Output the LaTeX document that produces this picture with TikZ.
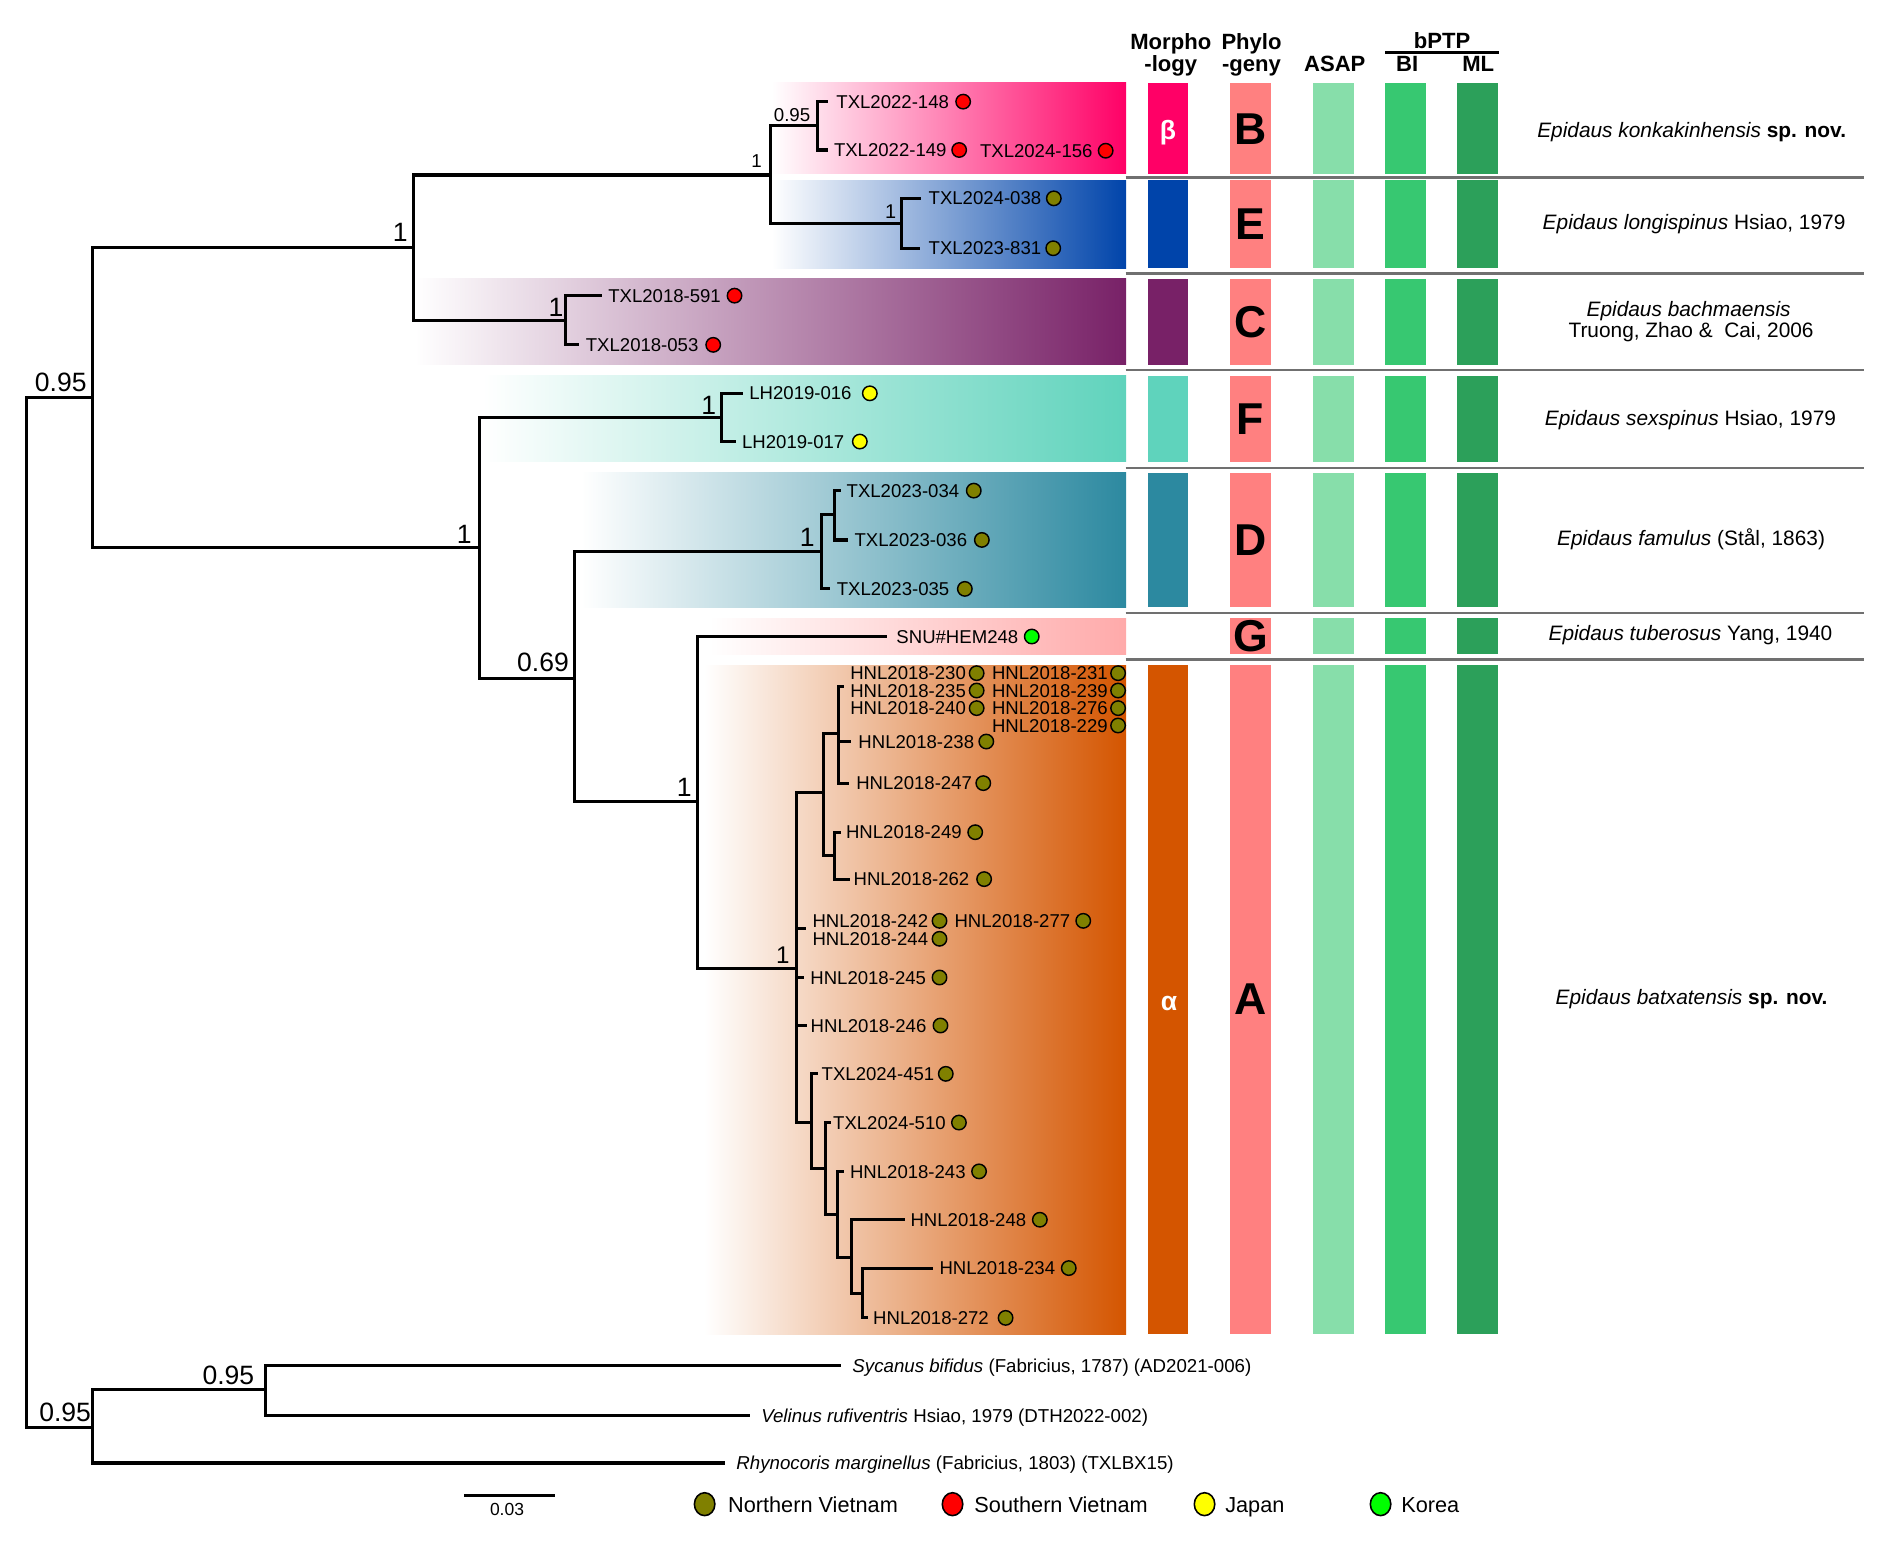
\documentclass[tikz,border=0pt]{standalone}
\usepackage{fontspec}
\setmainfont{Liberation Sans}
\usetikzlibrary{shapes.geometric}
\definecolor{cB}{HTML}{FF0066}
\definecolor{cE}{HTML}{0044AA}
\definecolor{cC}{HTML}{782167}
\definecolor{cF}{HTML}{5FD3BC}
\definecolor{cD}{HTML}{2C89A0}
\definecolor{cG}{HTML}{FFAAAA}
\definecolor{cA}{HTML}{D45500}
\definecolor{cPhy}{HTML}{FF8080}
\definecolor{cAsap}{HTML}{87DEAA}
\definecolor{cBI}{HTML}{37C871}
\definecolor{cML}{HTML}{2CA05A}
\definecolor{cSep}{HTML}{707070}
\definecolor{nVN}{HTML}{808000}
\definecolor{sVN}{HTML}{FF0000}
\definecolor{jap}{HTML}{FFFF00}
\definecolor{kor}{HTML}{00FF00}
\newcommand\ftip{\fontsize{15.4}{18}\selectfont}
\newcommand\fsupv{\fontsize{22}{26}\selectfont}
\newcommand\fsupsm{\fontsize{15.5}{18}\selectfont}
\newcommand\fspn{\fontsize{17.3}{20}\selectfont}
\newcommand\fhead{\fontsize{18.3}{21}\selectfont\bfseries}
\newcommand\fbig{\fontsize{37}{40}\selectfont\bfseries}
\newcommand\fgreek{\fontsize{22}{26}\selectfont\bfseries}
\newcommand\fleg{\fontsize{18}{21}\selectfont}
\newcommand\fog{\fontsize{15.5}{18}\selectfont}
\newcommand\tipl[6]{%
  \node[tiplab] (#1) at (#2,#3) {#4};
  \node[tipdot,fill=#6] (#1d) at (#5,#3) {};}
\begin{document}
\begin{tikzpicture}[x=1pt,y=-1pt,
  br/.style={line width=2.6pt, line join=miter},
  tiplab/.style={anchor=west, inner sep=0pt, text height=11pt, text depth=0pt, font=\ftip},
  tipdot/.style={circle, draw=black, line width=1.2pt, minimum size=12pt, inner sep=0pt},
  supv/.style={anchor=base east, inner sep=0pt, font=\fsupv},
  supsm/.style={anchor=base east, inner sep=0pt, font=\fsupsm},
  spname/.style={anchor=center, inner sep=0pt, text height=12.4pt, text depth=0pt, font=\fspn},
  ogname/.style={anchor=west, inner sep=0pt, text height=11.1pt, text depth=0pt, font=\fog},
  head/.style={anchor=base, inner sep=0pt, font=\fhead},
  biglet/.style={anchor=center, inner sep=0pt, font=\fbig},
  greek/.style={anchor=center, inner sep=0pt, font=\fgreek, text=white},
  sepline/.style={draw=cSep, line width=1.8pt},
  legdot/.style={ellipse, draw=black, line width=1.3pt, minimum width=17pt, minimum height=19pt, inner sep=0pt},
  legtxt/.style={anchor=west, inner sep=0pt, text height=13pt, text depth=0pt, font=\fleg}]
\useasboundingbox (0,0) rectangle (1570,1282);
\fill[white] (0,0) rectangle (1570,1282);

% ---------- coloured clade bands ----------
\shade[left color=white, right color=cB] (640,68.5) rectangle (934,144.3);
\shade[left color=white, right color=cE] (640,149.4) rectangle (934,222.5);
\shade[left color=white, right color=cC] (344,231.3) rectangle (934,302.7);
\shade[left color=white, right color=cF] (400,311.8) rectangle (934,382.9);
\shade[left color=white, right color=cD] (482,392) rectangle (934,503.8);
\shade[left color=white, right color=cG] (588,512.7) rectangle (934,542.8);
\shade[left color=white, right color=cA] (584,551.7) rectangle (934,1106.4);

% ---------- morphology bars ----------
\fill[cB] (952,68.5) rectangle (985,144.3);
\fill[cE] (952,149.4) rectangle (985,222.5);
\fill[cC] (952,231.3) rectangle (985,302.7);
\fill[cF] (952,311.8) rectangle (985,382.9);
\fill[cD] (952,392) rectangle (985,503.8);
\fill[cA] (952,551.7) rectangle (985,1106.4);
\node[greek] (beta) at (968.7,109.7) {β};
\node[greek] (alpha) at (969.6,832) {α};

% ---------- phylogeny / ASAP / bPTP bars ----------
\foreach \t/\b in {68.5/144.3,149.4/222.5,231.3/302.7,311.8/382.9,392/503.8,512.7/542.8,551.7/1106.4}{
  \fill[cPhy] (1020.3,\t) rectangle (1054,\b);
  \fill[cAsap] (1089,\t) rectangle (1122.6,\b);
  \fill[cBI] (1148.7,\t) rectangle (1182.3,\b);
  \fill[cML] (1208.5,\t) rectangle (1242,\b);
}
\node[biglet] (LB) at (1037,107.5) {B};
\node[biglet] (LE) at (1037,186.3) {E};
\node[biglet] (LC) at (1037,267) {C};
\node[biglet] (LF) at (1037,347.4) {F};
\node[biglet] (LD) at (1037,448) {D};
\node[biglet] (LG) at (1037,527.8) {G};
\node[biglet] (LA) at (1037,829) {A};

% ---------- separators ----------
\foreach \y in {147.2,226.8,307,387.8,508.4,547}{
  \draw[sepline] (933.5,\y) -- (1546,\y);
}

% ---------- header ----------
\node[head] (hm1) at (971,40.9) {Morpho};
\node[head] (hm2) at (971,59) {-logy};
\node[head] (hp1) at (1038,40.9) {Phylo};
\node[head] (hp2) at (1038,59) {-geny};
\node[head] (has) at (1107,59) {ASAP};
\node[head] (hbp) at (1196,40) {bPTP};
\node[head] (hbi) at (1167,59) {BI};
\node[head] (hml) at (1226,59) {ML};
\coordinate (bl1) at (1148.7,43.5);
\coordinate (bl2) at (1243.6,43.5);
\draw[line width=1.8pt] (bl1) -- (bl2);

% ---------- species names ----------
\node[spname] (spB) at (1403,107.8) {\textit{Epidaus konkakinhensis} \textbf{sp. nov.}};
\node[spname] (spE) at (1405,183.8) {\textit{Epidaus longispinus} Hsiao, 1979};
\node[spname] (spC1) at (1400.5,256.4) {\textit{Epidaus bachmaensis}};
\node[spname] (spC2) at (1402.5,273.5) {Truong, Zhao \&\ \ Cai, 2006};
\node[spname] (spF) at (1402,346.8) {\textit{Epidaus sexspinus} Hsiao, 1979};
\node[spname] (spD) at (1402.5,446.3) {\textit{Epidaus famulus} (Stål, 1863)};
\node[spname] (spG) at (1402,525) {\textit{Epidaus tuberosus} Yang, 1940};
\node[spname] (spA) at (1402.9,826.5) {\textit{Epidaus batxatensis} \textbf{sp. nov.}};

% ---------- tree coordinates ----------
\coordinate (root) at (22,756);
\coordinate (ing) at (76.5,329.5);
\coordinate (n1) at (342.7,205.1);
\coordinate (nBE) at (639,145.1);
\coordinate (nB) at (677.7,104.2);
\coordinate (l148) at (686.3,84.3);
\coordinate (l149) at (686.3,124.4);
\coordinate (nE) at (747.7,185.2);
\coordinate (l038) at (764.2,164.5);
\coordinate (l831) at (763.4,205.9);
\coordinate (nC) at (468.7,265.9);
\coordinate (l591) at (499.2,245.2);
\coordinate (l053) at (480.2,286);
\coordinate (n2) at (397.7,454.1);
\coordinate (nF) at (598.4,346);
\coordinate (l016) at (616.4,326.2);
\coordinate (l017) at (610.3,366.2);
\coordinate (n069) at (476.8,562.4);
\coordinate (nD) at (681.3,457.4);
\coordinate (nD1) at (692.4,427);
\coordinate (l034) at (697.1,406.9);
\coordinate (l036) at (703.4,447.8);
\coordinate (l035) at (688.2,488.4);
\coordinate (nGA) at (578.6,664.7);
\coordinate (lSNU) at (735.9,527.9);
\coordinate (nA) at (660.8,803.5);
\coordinate (nA1) at (683,657.3);
\coordinate (nA11) at (695.3,608.6);
\coordinate (lcl) at (700,569.5);
\coordinate (l238) at (706,615);
\coordinate (l247) at (704.5,649.5);
\coordinate (nA12) at (692.2,709.8);
\coordinate (l249) at (697.8,690.2);
\coordinate (l262) at (705,729.1);
\coordinate (l242) at (668.2,769.8);
\coordinate (l245) at (666.5,810.7);
\coordinate (l246) at (669.4,850.5);
\coordinate (nA2) at (673,931);
\coordinate (l451) at (678.6,890.6);
\coordinate (nA3) at (684.9,969.3);
\coordinate (l510) at (689.6,931);
\coordinate (nA4) at (694.3,1007.5);
\coordinate (l243) at (700,971.5);
\coordinate (nA5) at (706.2,1042.6);
\coordinate (l248) at (750.4,1011.6);
\coordinate (nA6) at (715.3,1073);
\coordinate (l234) at (773.4,1051.7);
\coordinate (l272) at (720,1093);
\coordinate (og) at (76.5,1183.8);
\coordinate (og1) at (220,1152.6);
\coordinate (lSyc) at (697.9,1132.7);
\coordinate (lVel) at (622.2,1173.8);
\coordinate (lRhy) at (601.6,1213.4);

% ---------- branches ----------
\foreach \p/\c in {root/ing, root/og, ing/n1, ing/n2, n1/nBE, n1/nC,
  nBE/nB, nBE/nE, nB/l148, nB/l149, nE/l038, nE/l831, nC/l591, nC/l053,
  n2/nF, n2/n069, nF/l016, nF/l017, n069/nD, n069/nGA, nD/nD1, nD/l035,
  nD1/l034, nD1/l036, nGA/lSNU, nGA/nA, nA/nA1, nA/l242, nA/l245, nA/l246, nA/nA2,
  nA1/nA11, nA1/nA12, nA11/lcl, nA11/l238, nA11/l247, nA12/l249, nA12/l262,
  nA2/l451, nA2/nA3, nA3/l510, nA3/nA4, nA4/l243, nA4/nA5, nA5/l248, nA5/nA6,
  nA6/l234, nA6/l272, og/og1, og/lRhy, og1/lSyc, og1/lVel}{
  \draw[br] (\p) |- (\c);
}

% ---------- support values ----------
\node[supv] (s1) at (72,325) {0.95};
\node[supv] (s2) at (338.3,200.4) {1};
\node[supsm] (s3) at (632,138.7) {1};
\node[supsm] (s4) at (672.2,100.9) {0.95};
\node[supsm, font=\fontsize{16.5}{19}\selectfont] (s5) at (743.5,181) {1};
\node[supv] (s6) at (467.5,262.6) {1};
\node[supv] (s7) at (391.3,450.5) {1};
\node[supv] (s8) at (594.2,343.6) {1};
\node[supv] (s9) at (472,557) {0.69};
\node[supv] (s10) at (675.8,453.3) {1};
\node[supv] (s11) at (573.8,660.6) {1};
\node[supv, font=\fontsize{20}{24}\selectfont] (s12) at (655,798.8) {1};
\node[supv] (s13) at (75.6,1179) {0.95};
\node[supv] (s14) at (211,1148) {0.95};

% ---------- tips ----------
\tipl{t148}{693.5}{84.3}{TXL2022-148}{798.8}{sVN}
\tipl{t149}{691.5}{124.4}{TXL2022-149}{795.5}{sVN}
\tipl{t156}{812.6}{125}{TXL2024-156}{917}{sVN}
\tipl{t038}{770}{164.5}{TXL2024-038}{874}{nVN}
\tipl{t831}{770}{205.9}{TXL2023-831}{873.5}{nVN}
\tipl{t591}{504.3}{245.2}{TXL2018-591}{609.2}{sVN}
\tipl{t053}{485.7}{286}{TXL2018-053}{591.5}{sVN}
\tipl{t016}{621.3}{326.2}{LH2019-016}{721.4}{jap}
\tipl{t017}{615.3}{366.2}{LH2019-017}{713.1}{jap}
\tipl{t034}{702}{406.9}{TXL2023-034}{807.6}{nVN}
\tipl{t036}{708.6}{447.8}{TXL2023-036}{814.3}{nVN}
\tipl{t035}{693.8}{488.4}{TXL2023-035}{800.2}{nVN}
\tipl{tSNU}{743.3}{527.9}{SNU\#HEM248}{855.7}{kor}
\tipl{t230}{705}{558.3}{HNL2018-230}{810}{nVN}
\tipl{t235}{705}{572.7}{HNL2018-235}{810}{nVN}
\tipl{t240}{705}{587.3}{HNL2018-240}{810}{nVN}
\tipl{t231}{822.6}{558.3}{HNL2018-231}{927.3}{nVN}
\tipl{t239}{822.6}{572.7}{HNL2018-239}{927.3}{nVN}
\tipl{t276}{822.6}{587.3}{HNL2018-276}{927.3}{nVN}
\tipl{t229}{822.6}{601.7}{HNL2018-229}{927.3}{nVN}
\tipl{t238}{711.8}{615}{HNL2018-238}{818}{nVN}
\tipl{t247}{710}{649.5}{HNL2018-247}{815.5}{nVN}
\tipl{t249}{701.5}{690.2}{HNL2018-249}{808.8}{nVN}
\tipl{t262}{707.8}{729.1}{HNL2018-262}{816.2}{nVN}
\tipl{t242}{673.7}{763.7}{HNL2018-242}{779.2}{nVN}
\tipl{t277}{791.5}{763.7}{HNL2018-277}{898.4}{nVN}
\tipl{t244}{673.7}{778.6}{HNL2018-244}{779.2}{nVN}
\tipl{t245}{671.9}{810.7}{HNL2018-245}{779.2}{nVN}
\tipl{t246}{672.2}{850.5}{HNL2018-246}{780}{nVN}
\tipl{t451}{681.3}{890.6}{TXL2024-451}{784.4}{nVN}
\tipl{t510}{690.8}{931}{TXL2024-510}{795.3}{nVN}
\tipl{t243}{704.8}{971.5}{HNL2018-243}{812}{nVN}
\tipl{t248}{755}{1011.6}{HNL2018-248}{862.4}{nVN}
\tipl{t234}{779}{1051.7}{HNL2018-234}{886.4}{nVN}
\tipl{t272}{724}{1093}{HNL2018-272}{834}{nVN}

% ---------- outgroups ----------
\node[ogname] (oSyc) at (706.8,1132.7) {\textit{Sycanus bifidus} (Fabricius, 1787) (AD2021-006)};
\node[ogname] (oVel) at (631.2,1173.8) {\textit{Velinus rufiventris} Hsiao, 1979 (DTH2022-002)};
\node[ogname] (oRhy) at (610.6,1213.4) {\textit{Rhynocoris marginellus} (Fabricius, 1803) (TXLBX15)};

% ---------- scale bar ----------
\coordinate (sb1) at (385,1240.2);
\coordinate (sb2) at (460.7,1240.2);
\draw[line width=2.4pt] (sb1) -- (sb2);
\node[anchor=center, inner sep=0pt, font=\fontsize{14.5}{17}\selectfont, text height=10.4pt, text depth=0pt] (sbt) at (420.5,1251.4) {0.03};

% ---------- legend ----------
\node[legdot, fill=nVN] (gN) at (584.4,1247.5) {};
\node[legtxt] (gNt) at (603.7,1248) {Northern Vietnam};
\node[legdot, fill=sVN] (gS) at (790,1247.5) {};
\node[legtxt] (gSt) at (808,1248) {Southern Vietnam};
\node[legdot, fill=jap] (gJ) at (999,1247.5) {};
\node[legtxt] (gJt) at (1016,1248) {Japan};
\node[legdot, fill=kor] (gK) at (1145,1247.5) {};
\node[legtxt] (gKt) at (1162,1248) {Korea};
\end{tikzpicture}
\end{document}
